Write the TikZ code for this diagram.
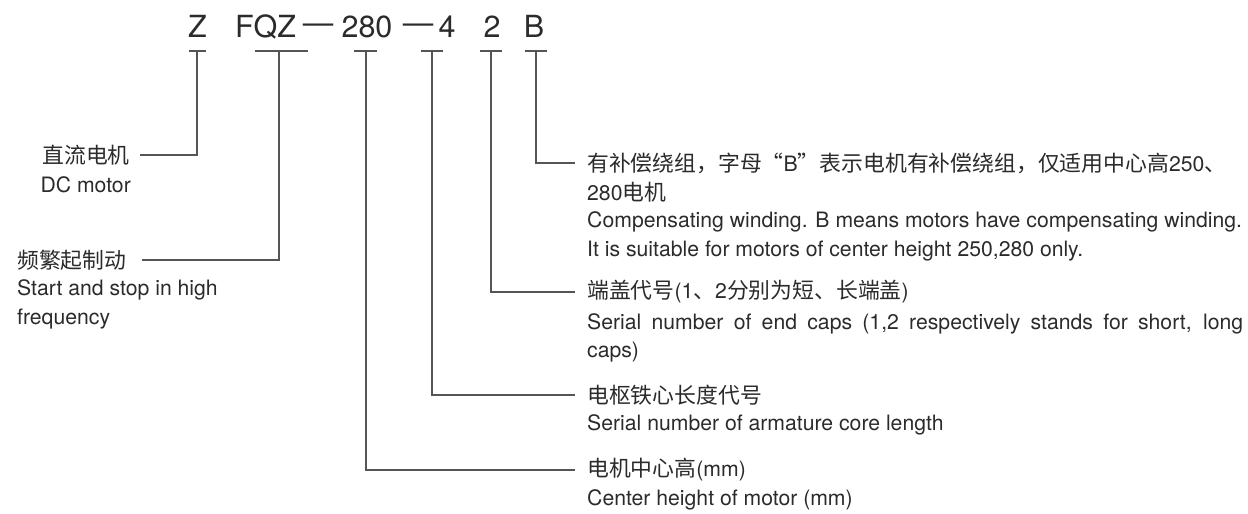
\documentclass[tikz,border=0pt]{standalone}
\usepackage{fontspec}
\setmainfont{TeX Gyre Heros}
\newfontfamily\cjk{Noto Sans CJK SC}[Scale=1.03]
\definecolor{txt}{HTML}{2B2B2B}
\definecolor{ln}{HTML}{555555}
\tikzset{
  lbl/.style={inner sep=0pt, text=txt, font=\fontsize{21.2}{25}\selectfont},
  code/.style={inner sep=0pt, text=txt, font=\fontsize{30.5}{34}\selectfont, anchor=base},
  conn/.style={draw=ln, line width=1.1pt},
  tickbar/.style={draw=ln, line width=1.1pt},
}
\begin{document}
\begin{tikzpicture}[x=1pt,y=-1pt]
\useasboundingbox (0,0) rectangle (1248,514);
% code row
\node[code] (cZ) at (197.5,37) {Z};
\node[code] (cFQZ) at (265.5,37) {FQZ};
\node[code] (cD1) at (318,37) {\raisebox{4pt}{—}};
\node[code] (c280) at (367,37) {280};
\node[code] (cD2) at (418,37) {\raisebox{4pt}{—}};
\node[code] (c4) at (447,37) {4};
\node[code] (c2) at (492,37) {2};
\node[code] (cB) at (534,37) {B};
% tick tops
\coordinate (tZ) at (197,51);
\coordinate (tFQZ) at (279,51);
\coordinate (t280) at (366,51);
\coordinate (t4) at (432,51);
\coordinate (t2) at (491,51);
\coordinate (tB) at (536,51);
\draw[tickbar] (189,51) -- (206,51);
\draw[tickbar] (255,51) -- (308,51);
\draw[tickbar] (354,51) -- (377,51);
\draw[tickbar] (421,51) -- (443,51);
\draw[tickbar] (480,51) -- (502,51);
\draw[tickbar] (525,51) -- (547,51);
% labels left
\node[lbl, anchor=east] (hZ) at (130,155) {\cjk 直流电机};
\node[lbl, anchor=base east] (eZ) at (131,192) {DC motor};
\node[lbl, anchor=west] (hFQZ) at (17,260) {\cjk 频繁起制动};
\node[lbl, anchor=base west] (eFQZ1) at (17,295.5) {Start and stop in high};
\node[lbl, anchor=base west] (eFQZ2) at (17,324) {frequency};
% labels right
\node[lbl, anchor=west] (hB) at (587,163) {{\cjk 有补偿绕组，字母“}B{\cjk ”表示电机有补偿绕组，仅适用中心高}250{\cjk 、}};
\node[lbl, anchor=west] (hB2) at (587,192) {280{\cjk 电机}};
\node[lbl, anchor=base west] (eB1) at (587,227.5) {Compensating winding. B means motors have compensating winding.};
\node[lbl, anchor=base west] (eB2) at (587,256) {It is suitable for motors of center height 250,280 only.};
\node[lbl, anchor=west] (h2) at (587,292) {{\cjk 端盖代号}(1{\cjk 、}2{\cjk 分别为短、长端盖})};
\node[lbl, anchor=base west] (e2a) at (587,329) {\makebox[656pt][s]{Serial number of end caps (1,2 respectively stands for short, long}};
\node[lbl, anchor=base west] (e2b) at (587,357.5) {caps)};
\node[lbl, anchor=west] (h4) at (587,395) {\cjk 电枢铁心长度代号};
\node[lbl, anchor=base west] (e4) at (587,430) {Serial number of armature core length};
\node[lbl, anchor=west] (h280) at (587,470) {{\cjk 电机中心高}(mm)};
\node[lbl, anchor=base west] (e280) at (587,505) {Center height of motor (mm)};
% connectors
\draw[conn] (tZ) |- ([xshift=10pt]hZ.east);
\draw[conn] (tFQZ) |- ([xshift=15pt]hFQZ.east);
\draw[conn] (tB) |- ([xshift=-12pt]hB.west);
\draw[conn] (t2) |- ([xshift=-12pt]h2.west);
\draw[conn] (t4) |- ([xshift=-12pt]h4.west);
\draw[conn] (t280) |- ([xshift=-12pt]h280.west);
\end{tikzpicture}
\end{document}
